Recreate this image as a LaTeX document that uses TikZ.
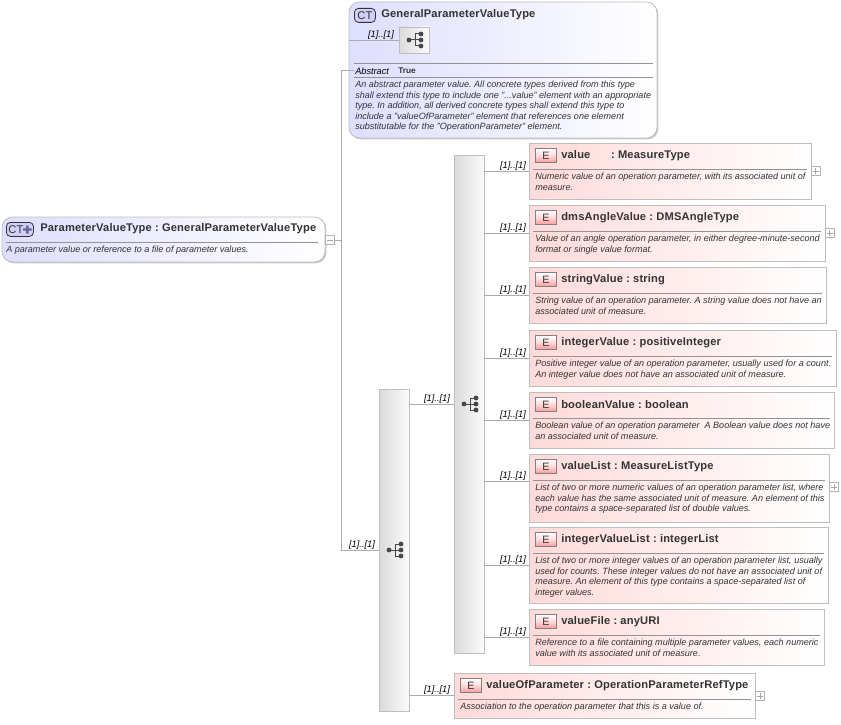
\documentclass[tikz,border=0pt]{standalone}
\usepackage{fontspec}
\setmainfont{Liberation Sans}
\usetikzlibrary{shadows}
\definecolor{edgegray}{HTML}{BEBEBE}
\definecolor{conn}{HTML}{ABABAB}
\definecolor{txt}{HTML}{333333}
\definecolor{pinkl}{HTML}{FFDADA}
\definecolor{bluel}{HTML}{DEDEFF}
\definecolor{ctfill}{HTML}{CFCFF8}
\frenchspacing
\tikzset{
  x=0.75pt,y=-0.75pt,
  softshadow/.style={drop shadow={shadow xshift=1pt,shadow yshift=-1pt,fill=black,opacity=0.22}},
  cardbase/.style={anchor=north west,inner sep=0pt,outer sep=0pt,draw=edgegray,line width=0.6pt,softshadow},
  elemcard/.style={cardbase,left color=pinkl,right color=white},
  typecard/.style={cardbase,rounded corners=8pt,left color=bluel,right color=white},
  seqbox/.style={cardbase,left color=white!86!black,right color=white!98!black},
  connector/.style={draw=conn,line width=0.6pt},
  rule/.style={draw=gray!85,line width=0.45pt},
  occur/.style={font=\fontsize{7pt}{7pt}\itshape,text=black,inner sep=0pt,anchor=south},
  titletext/.style={font=\fontsize{8.35pt}{9pt}\bfseries\addfontfeatures{LetterSpace=1.5},text=txt,inner sep=0pt,anchor=west},
  desctext/.style={font=\fontsize{6.8pt}{7.9pt}\itshape,text=txt,inner sep=0pt,anchor=north west,align=left},
  badgeE/.style={anchor=north west,minimum width=15.75pt,minimum height=10.5pt,inner sep=0pt,draw=gray,line width=0.6pt,top color=white,bottom color=red!40,middle color=pinkl,font=\fontsize{8pt}{8pt}\selectfont,text=txt},
  badgeCT/.style={anchor=north west,minimum height=10.5pt,inner sep=0pt,draw=txt,line width=0.6pt,rounded corners=3pt,fill=ctfill,font=\fontsize{8.4pt}{8pt}\selectfont,text=txt},
  toggle/.style={minimum size=6.5pt,inner sep=0pt,draw=gray!60,line width=0.4pt,fill=white},
  dotmark/.style={circle,fill=black!72,inner sep=0pt,minimum size=3.6pt},
}
\newcommand{\seqicon}[2]{%
  \begin{scope}[shift={(#1,#2)}]
    \draw[black!72,line width=0.75pt] (-6,0)--(0,0) (0,-6)--(0,6) (0,-6)--(6,-6) (0,0)--(6,0) (0,6)--(6,6);
    \node[dotmark] at (-6,0) {}; \node[dotmark] at (6,-6) {}; \node[dotmark] at (6,0) {}; \node[dotmark] at (6,6) {};
  \end{scope}}
% name, x, y, w, h, sep y(rel), title, desc
\newcommand{\elemcard}[8]{%
  \node[elemcard,minimum width=#4*0.75pt,minimum height=#5*0.75pt] (#1) at (#2,#3) {};
  \node[badgeE] (#1E) at (#2+6,#3+5) {E};
  \node[titletext] (#1T) at (#2+32,#3+13) {#7};
  \draw[rule] (#2+4,#3+#6) -- (#2+#4-4,#3+#6);
  \node[desctext] (#1D) at (#2+6,#3+#6+4) {#8};
}
\newcommand{\toggleat}[4]{\node[toggle] (#1) at (#2,#3) {};
  \draw[gray!70,line width=0.4pt] (#2-3,#3)--(#2+3,#3);
  \ifnum#4=1 \draw[gray!70,line width=0.4pt] (#2,#3-3)--(#2,#3+3);\fi}
\begin{document}
\begin{tikzpicture}
\useasboundingbox (0,0) rectangle (841,724);
\fill[white] (0,0) rectangle (841,724);

% connector junction
\coordinate (junc) at (341,240);
\coordinate (jtop) at (341,70);
\coordinate (jbot) at (341,550);
\coordinate (jtype) at (354,70);

% cards
\node[typecard,minimum width=231pt,minimum height=102pt] (base) at (349,2) {};
\node[typecard,minimum width=242.25pt,minimum height=33.75pt] (root) at (2,217) {};

% sequence boxes
\node[seqbox,minimum width=22.5pt,minimum height=241.5pt] (seqA) at (379,389) {};
\node[seqbox,minimum width=22.5pt,minimum height=373.5pt] (seqB) at (454,155) {};
\node[seqbox,minimum width=22.5pt,minimum height=19.5pt] (seqC) at (399,27) {};

% root content
\node[badgeCT,minimum width=20.25pt] (rootB) at (6,222) {CT\kern6pt};
\fill[gray!80!blue] (26,225.5) rectangle (28.5,233.5) (23,228.3) rectangle (31.5,230.7);
\node[titletext] (rootT) at (40,229) {ParameterValueType : GeneralParameterValueType};
\draw[rule] (6,242) -- (318,242);
\node[desctext] (rootD) at (6,245.5) {A parameter value or reference to a file of parameter values.};

% base content
\node[badgeCT,minimum width=15.75pt] (baseB) at (354,8) {CT};
\node[titletext] (baseT) at (381,15) {GeneralParameterValueType};
\draw[connector] (349,40) -- (seqC.west);
\node[occur] at (381,39.5) {[1]..[1]};
\seqicon{415}{40}
\draw[rule] (354,63) -- (653,63);
\draw[rule] (354,77) -- (653,77);
\node[font=\fontsize{6.9pt}{7pt}\itshape,text=black,inner sep=0pt,anchor=west] (absL) at (355,71) {Abstract};
\node[font=\fontsize{6.2pt}{7pt}\bfseries,text=txt,inner sep=0pt,anchor=west] (absV) at (398,70.5) {True};
\node[desctext] (baseD) at (355,81) {An abstract parameter value. All concrete types derived from this type\\
shall extend this type to include one "...value" element with an appropriate\\
type. In addition, all derived concrete types shall extend this type to\\
include a "valueOfParameter" element that references one element\\
substitutable for the "OperationParameter" element.};

% elements
\elemcard{eA}{529}{143}{282}{56}{26}{value\hspace{15.5pt}: MeasureType}{Numeric value of an operation parameter, with its associated unit of\\measure.}
\elemcard{eB}{529}{205}{296}{56}{26}{dmsAngleValue : DMSAngleType}{Value of an angle operation parameter, in either degree-minute-second\\format or single value format.}
\elemcard{eC}{529}{267}{297}{56}{26}{stringValue : string}{String value of an operation parameter. A string value does not have an\\associated unit of measure.}
\elemcard{eD}{529}{330}{307}{56}{26}{integerValue : positiveInteger}{Positive integer value of an operation parameter, usually used for a count.\\An integer value does not have an associated unit of measure.}
\elemcard{eE}{529}{392}{305}{56}{26}{booleanValue : boolean}{Boolean value of an operation parameter\ \ A Boolean value does not have\\an associated unit of measure.}
\elemcard{eF}{529}{454}{300}{68}{26}{valueList : MeasureListType}{List of two or more numeric values of an operation parameter list, where\\each value has the same associated unit of measure. An element of this\\type contains a space-separated list of double values.}
\elemcard{eG}{529}{527}{299}{76}{26}{integerValueList : integerList}{List of two or more integer values of an operation parameter list, usually\\used for counts. These integer values do not have an associated unit of\\measure. An element of this type contains a space-separated list of\\integer values.}
\elemcard{eH}{529}{609}{295}{56}{26}{valueFile : anyURI}{Reference to a file containing multiple parameter values, each numeric\\value with its associated unit of measure.}
\elemcard{eI}{454}{673}{301}{45}{26}{valueOfParameter : OperationParameterRefType}{Association to the operation parameter that this is a value of.}

% toggles
\toggleat{tR}{330}{240}{0}
\toggleat{tA}{815.5}{171}{1}
\toggleat{tB}{829.5}{233}{1}
\toggleat{tF}{834}{487}{1}
\toggleat{tI}{760}{696}{1}

% connectors
\draw[connector] (tR.east) -- (junc);
\draw[connector] (jtop) -- (jbot);
\draw[connector] (jtop) -- (jtype);
\draw[connector] (jbot) -- (seqA.west |- jbot);
\draw[connector] (seqA.east |- 0,404) -- (seqB.west |- 0,404);
\draw[connector] (seqA.east |- 0,695) -- (eI.west |- 0,695);
\foreach \n/\yy in {eA/171,eB/233,eC/295,eD/358,eE/420,eF/481,eG/565,eH/637}{
  \draw[connector] (seqB.east |- 0,\yy) -- (\n.west |- 0,\yy);
  \node[occur] at (513,\yy-0.5) {[1]..[1]};
}
\node[occur] at (362,549.5) {[1]..[1]};
\node[occur] at (437,403.5) {[1]..[1]};
\node[occur] at (437,694.5) {[1]..[1]};
\seqicon{395}{550}
\seqicon{470}{404}
\end{tikzpicture}
\end{document}
